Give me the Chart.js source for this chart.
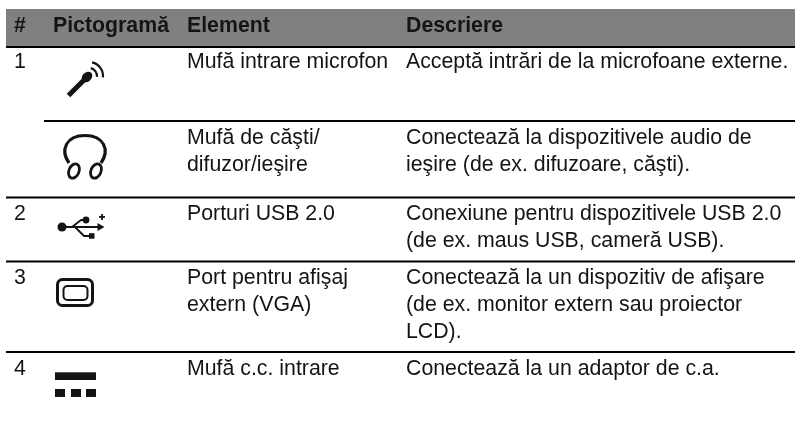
<!DOCTYPE html>
<html><head><meta charset="utf-8">
<style>html,body{margin:0;padding:0;background:#fff}#w{position:absolute;left:0;top:0;width:795px;height:422px}</style>
<script src="https://cdn.jsdelivr.net/npm/chart.js@4"></script></head>
<body><div id="w"><canvas id="c" width="795" height="422"></canvas></div>
<script>
const headers = ['#','Pictogramă','Element','Descriere'];
const rowNumbers = ['1','','2','3','4'];
const elements = [['Mufă intrare microfon'],['Mufă de căşti/','difuzor/ieşire'],['Porturi USB 2.0'],['Port pentru afişaj','extern (VGA)'],['Mufă c.c. intrare']];
const descriptions = [['Acceptă intrări de la microfoane externe.'],
 ['Conectează la dispozitivele audio de','ieşire (de ex. difuzoare, căşti).'],
 ['Conexiune pentru dispozitivele USB 2.0','(de ex. maus USB, cameră USB).'],
 ['Conectează la un dispozitiv de afişare','(de ex. monitor extern sau proiector','LCD).'],
 ['Conectează la un adaptor de c.a.']];
const L = {band:[6,795,9,46], colX:[14,53,187,406], rules:[[6,47],[44,121],[6,197.5],[6,261.5],[6,352]],
 rowBase:[68,143.5,219.5,284,375], lead:27, size:21.3};
const FONT='"Liberation Sans", Arial, sans-serif', INK='#141414';

const tablePlugin = {id:'table', afterDatasetsDraw(chart){
  const c=chart.ctx, X=v=>chart.scales.x.getPixelForValue(v), Y=v=>chart.scales.y.getPixelForValue(v);
  c.save();
  c.fillStyle='#808080'; c.fillRect(X(L.band[0]),Y(L.band[2]),X(L.band[1])-X(L.band[0]),Y(L.band[3])-Y(L.band[2]));
  c.strokeStyle='#000'; c.lineWidth=2;
  L.rules.forEach(([x0,y])=>{c.beginPath();c.moveTo(X(x0),Y(y));c.lineTo(X(L.band[1]),Y(y));c.stroke();});
  c.fillStyle=INK; c.textBaseline='alphabetic'; c.textAlign='left';
  c.font='bold '+L.size+'px '+FONT;
  headers.forEach((h,i)=>c.fillText(h,X(L.colX[i]),Y(32)));
  c.font=L.size+'px '+FONT;
  rowNumbers.forEach((n,r)=>{ if(n) c.fillText(n,X(L.colX[0]),Y(L.rowBase[r])); });
  elements.forEach((ls,r)=>ls.forEach((t,k)=>c.fillText(t,X(L.colX[2]),Y(L.rowBase[r]+k*L.lead))));
  descriptions.forEach((ls,r)=>ls.forEach((t,k)=>c.fillText(t,X(L.colX[3]),Y(L.rowBase[r]+k*L.lead))));
  // icons
  c.fillStyle=INK; c.strokeStyle=INK; c.lineCap='butt'; c.lineJoin='round';
  // microphone
  c.lineWidth=5; c.beginPath(); c.moveTo(X(68.5),Y(95.5)); c.lineTo(X(84),Y(80)); c.stroke();
  c.save(); c.translate(X(87),Y(77)); c.rotate(-Math.PI/4); c.beginPath(); c.ellipse(0,0,6,4.6,0,0,7); c.fill(); c.restore();
  c.lineWidth=2.2;
  [8,14].forEach(r=>{c.beginPath();c.arc(X(89),Y(76),r,-1.35,0.1);c.stroke();});
  // headphones
  c.lineWidth=3.2;
  c.beginPath(); c.moveTo(X(69),Y(163)); c.bezierCurveTo(X(60),Y(150),X(66),Y(135.5),X(85),Y(135.5)); c.bezierCurveTo(X(104),Y(135.5),X(110),Y(150),X(101),Y(163)); c.stroke();
  c.lineWidth=2.8;
  [[74,171,0.4],[96,171,0.4]].forEach(([x,y,a])=>{c.save();c.translate(X(x),Y(y));c.rotate(a);c.beginPath();c.ellipse(0,0,5,7.5,0,0,7);c.stroke();c.restore();});
  // usb
  c.lineWidth=1.8; c.beginPath(); c.moveTo(X(62),Y(227)); c.lineTo(X(100),Y(227)); c.stroke();
  c.beginPath(); c.arc(X(62),Y(227),4.5,0,7); c.fill();
  c.beginPath(); c.moveTo(X(72),Y(227)); c.lineTo(X(81),Y(220)); c.lineTo(X(86),Y(220)); c.stroke();
  c.beginPath(); c.arc(X(86),Y(220),3.4,0,7); c.fill();
  c.beginPath(); c.moveTo(X(75),Y(227)); c.lineTo(X(84),Y(236)); c.lineTo(X(90),Y(236)); c.stroke();
  c.fillRect(X(89),Y(233.2),5.5,5.5);
  c.beginPath(); c.moveTo(X(104.5),Y(227)); c.lineTo(X(97.5),Y(223)); c.lineTo(X(97.5),Y(231)); c.fill();
  c.fillRect(X(99),Y(216),6,1.8); c.fillRect(X(101.1),Y(214),1.8,6);
  // monitor
  c.lineWidth=3; c.beginPath(); c.roundRect(X(57.5),Y(279.5),35,26,5); c.stroke();
  c.lineWidth=2; c.beginPath(); c.roundRect(X(63.5),Y(286),24,14,4); c.stroke();
  // dc
  c.fillRect(X(55),Y(372.3),41,7.7);
  [[55,10],[71,10],[86,10]].forEach(([x,w])=>c.fillRect(X(x),Y(389),w,8));
  c.restore();
}};

new Chart(document.getElementById('c'),{type:'scatter',
 data:{datasets:[{data:[],pointRadius:0}]},
 options:{responsive:false,animation:false,layout:{padding:0},
  plugins:{legend:{display:false},tooltip:{enabled:false}},
  scales:{x:{type:'linear',min:0,max:795,display:false},y:{type:'linear',min:0,max:422,reverse:true,display:false}}},
 plugins:[tablePlugin]});
</script></body></html>
